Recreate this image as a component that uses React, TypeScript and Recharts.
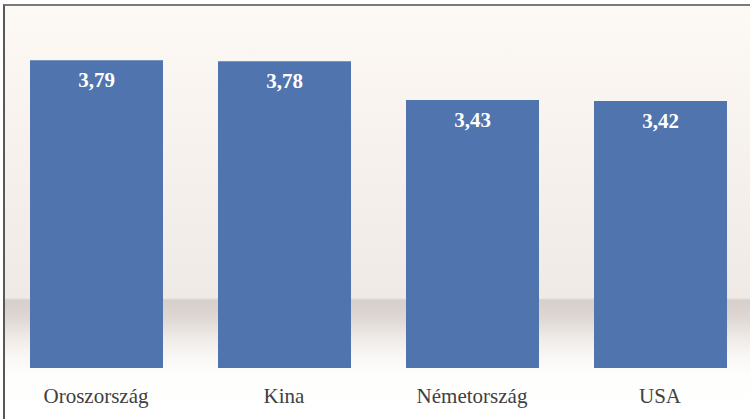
import { Bar, BarChart, LabelList, XAxis, YAxis } from "recharts";

const countries = ["Oroszország", "Kina", "Németország", "USA"];
const scores = [3.79, 3.78, 3.43, 3.42];

const data = countries.map((name, i) => ({ name, value: scores[i] }));

const SERIF = '"Liberation Serif", "Times New Roman", serif';

function CountryTick(props: any) {
  const { x, payload } = props;
  return (
    <text
      x={x}
      y={403}
      textAnchor="middle"
      fontFamily={SERIF}
      fontSize={21}
      fill="#404040"
    >
      {payload.value}
    </text>
  );
}

function ValueLabel(props: any) {
  const { x, y, width, value } = props;
  return (
    <text
      x={x + width / 2}
      y={y + 27}
      textAnchor="middle"
      fontFamily={SERIF}
      fontSize={21}
      fontWeight="bold"
      fill="#ffffff"
    >
      {String(value).replace(".", ",")}
    </text>
  );
}

export default function App() {
  return (
    <div
      style={{
        position: "absolute",
        left: 0,
        top: 0,
        width: 750,
        height: 419,
        overflow: "hidden",
        background: "#ffffff",
      }}
    >
      {/* framed back wall with the floor shadow band */}
      <div
        style={{
          position: "absolute",
          left: 3,
          top: 4,
          width: 760,
          height: 430,
          borderTop: "2px solid #7d7b79",
          borderLeft: "2px solid #5a5856",
          background:
            "linear-gradient(to bottom, #fdf9f5 0px, #f6f1ed 150px, #f0eae6 292px, #d7cfca 294px, #ddd6d2 310px, #eee9e5 330px, #faf8f6 352px, #fefefd 370px, #ffffff 414px)",
        }}
      />
      <div style={{ position: "absolute", left: 0, top: 0 }}>
        <BarChart
          width={754}
          height={419}
          data={data}
          margin={{ top: 37, right: 0, bottom: 0, left: 2 }}
        >
          <XAxis
            dataKey="name"
            axisLine={false}
            tickLine={false}
            height={51}
            interval={0}
            tick={<CountryTick />}
          />
          <YAxis hide domain={[1, 4]} />
          <Bar dataKey="value" fill="#4f74ae" barSize={133} isAnimationActive={false}>
            <LabelList dataKey="value" content={<ValueLabel />} />
          </Bar>
        </BarChart>
      </div>
    </div>
  );
}
